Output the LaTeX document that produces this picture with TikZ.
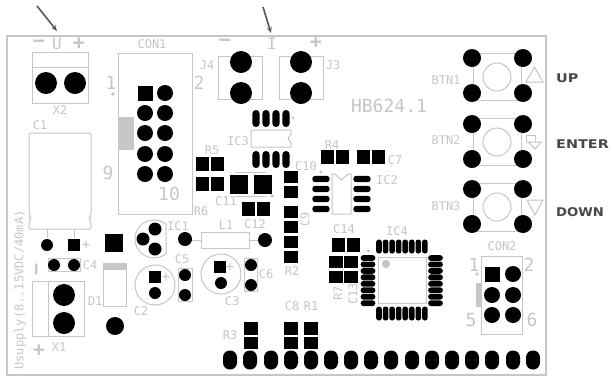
\documentclass[tikz,border=0pt]{standalone}
\usepackage{fontspec}
\usepackage{graphicx}
\setmainfont{DejaVu Sans Mono}
\newfontfamily\capsfont{DejaVu Sans}
\definecolor{silk}{HTML}{C6C6C6}
\newcommand\rpad[3]{\fill (#1,#2) circle (#3);}
\newcommand\spad[3]{\fill[shift={(#1,#2)}] (-#3,-#3) rectangle (#3,#3);}
\newcommand\rect[4]{\fill (#1,#2) rectangle (#3,#4);}
\newcommand\obl[5]{\fill[shift={(#1,#2)},rounded corners=#5] (-#3,-#4) rectangle (#3,#4);}
\tikzset{
  lbl/.style={text=silk,inner sep=0pt,font=\fontsize{12}{12}\selectfont},
  lblbig/.style={text=silk,inner sep=0pt,font=\fontsize{18}{18}\selectfont},
  lblmid/.style={text=silk,inner sep=0pt,font=\fontsize{16}{16}\selectfont},
  lblsign/.style={text=silk,inner sep=0pt,font=\bfseries\fontsize{20}{20}\selectfont},
  lblplus/.style={text=silk,inner sep=0pt,font=\fontsize{14}{14}\selectfont},
  outl/.style={draw=silk,line width=1pt},
  callout/.style={text=black!72,inner sep=0pt,anchor=west,font=\capsfont\bfseries\fontsize{12}{12}\selectfont},
  pointer/.style={draw=black!65,line width=1.6pt,-{Stealth[length=6pt,width=5pt]}}
}
\usetikzlibrary{arrows.meta}
\begin{document}
\begin{tikzpicture}[x=1pt,y=-1pt]
\useasboundingbox (0,0) rectangle (613,376);
\fill[white] (0,0) rectangle (613,376);
% board
\draw[draw=silk,line width=1.6pt] (7,36) rectangle (546,375);
% pointers
\coordinate (pus) at (37,6); \coordinate (pue) at (57,31);
\coordinate (pis) at (263,7); \coordinate (pie) at (271,33);
\draw[pointer] (pus) -- (pue);
\draw[pointer] (pis) -- (pie);
% top marks
\node[lblsign] (um) at (39,43.5) {−};
\node[lblmid] (uu) at (57,44) {U};
\node[lblsign] (up) at (79,43.5) {+};
\node[lblsign] (im) at (225,43) {−};
\node[lblmid] (ii) at (272,43.5) {I};
\node[lblsign] (ip) at (316,43) {+};
% outlines
\begin{scope}[outl]
\draw (32,52) rectangle (88,103); \draw (32,67) -- (88,67);
\draw (118,53) rectangle (192,214);
\draw[rounded corners=2pt] (29,133) -- (91,133) -- (91,215) -- (89,218) -- (91,222) -- (91,229) -- (29,229) -- (29,222) -- (31,218) -- (29,215) -- cycle;
\draw (47,229) -- (47,238); \draw (74,229) -- (74,238);
\draw (218,56) rectangle (262,99);
\draw (279,56) rectangle (323,99);
\draw (251,130) -- (291,130) -- (291,134) -- (288,138.5) -- (291,143) -- (291,147) -- (251,147) -- cycle;
\draw (332,174) -- (335,174) -- (341.5,180) -- (348,174) -- (351,174) -- (351,214) -- (332,214) -- cycle;
\draw (235,172) -- (266,172);
\draw (235,196) -- (266,196);
\draw (201,232) rectangle (249,248);
\draw (191,240) -- (201,240); \draw (249,240) -- (258,240);
\draw (166,253.7) arc (50.8:309.2:19) -- cycle;
\draw (155,285) circle (20);
\draw (178,268) rectangle (192,301);
\draw (221,274) circle (20);
\draw (244,258) rectangle (257,291);
\draw (48,258) rectangle (80,271);
\draw (32,281) rectangle (84,336); \draw (48,281) -- (48,336);
\draw (103,263) rectangle (126,306);
\draw (378,257) rectangle (426,303);
\draw (481,256) rectangle (522,334);
\draw (473,53) rectangle (521,100); \draw (497,77) circle (14);
\draw (473,118) rectangle (521,165); \draw (497,142) circle (14);
\draw (473,183) rectangle (521,231); \draw (497,207) circle (14);
\draw (526,82) -- (543,82) -- (534.5,67) -- cycle;
\draw (526.5,142) -- (526.5,135) -- (535,135) -- (535,142);
\draw (526.5,142) -- (531,142);
\draw (528.5,142) -- (541.5,142) -- (535,149) -- cycle;
\draw (527,200) -- (543,200) -- (535,215) -- cycle;
\end{scope}
% silk fills
\fill[silk] (118,117) rectangle (134,150);
\fill[silk] (103,263) rectangle (126,270);
\fill[silk] (476,283) rectangle (481,307);
\fill[silk] (386,264) circle (4.2);
\fill[silk] (113,94) circle (1.8);
\fill[silk] (293,118) circle (1.7);
\fill[silk] (272,196) circle (1.8);
\fill[silk] (321,172) circle (1.7);
\fill[silk] (368.5,251) circle (1.7);
\fill[silk] (477,274) circle (1.8);
% pads
\rpad{46}{83}{11}\rpad{75}{83}{11}
\spad{145}{93}{7.5}\rpad{165}{93}{8}
\foreach \y in {113,133,154,174} {\rpad{145}{\y}{8}\rpad{165}{\y}{8}}
\rpad{47}{245}{6}\spad{74}{245}{6}
\rpad{54}{265}{6}\rpad{74}{265}{6}
\rpad{64}{295}{11}\rpad{64}{323}{11}
\spad{114}{243}{9}\rpad{115}{326}{9}
\rpad{155}{229}{6.5}\rpad{143}{239}{6.5}\rpad{155}{249}{6.5}
\rpad{185}{239}{7}\rpad{265}{240}{7}
\rpad{185}{275}{6}\rpad{185}{295}{6}
\spad{155}{277}{6}\rpad{155}{293}{6}
\spad{220}{267}{6}\rpad{221}{283}{6}
\rpad{251}{265}{6}\rpad{251}{285}{6}
\rpad{241}{62}{11}\rpad{241}{93}{11}
\rpad{301}{62}{11}\rpad{301}{93}{11}
\foreach \x in {256,266,276,286} {\obl{\x}{118.5}{3.6}{8.5}{3.5}\obl{\x}{159.5}{3.6}{8.5}{3.5}}
\rect{196}{157}{209}{171}\rect{211}{157}{224}{171}
\rect{196}{177}{209}{191}\rect{211}{177}{224}{191}
\rect{230}{175}{248}{194}\rect{254}{175}{272}{194}
\rect{242}{202}{255}{216}\rect{257}{202}{270}{216}
\rect{321}{150}{334}{164}\rect{336}{150}{349}{164}
\rect{357}{150}{370}{164}\rect{372}{150}{385}{164}
\rect{284}{171}{298}{183}\rect{284}{186}{298}{198}
\rect{284}{206}{298}{218}\rect{284}{221}{298}{233}
\rect{284}{236}{298}{248}\rect{284}{251}{298}{263}
\foreach \y in {179,189,199,209} {\obl{321}{\y}{8.7}{3.2}{3}\obl{362}{\y}{8.7}{3.2}{3}}
\rect{332}{238}{345}{252}\rect{347}{238}{360}{252}
\rect{329}{256}{343}{268}\rect{344}{256}{358}{268}
\rect{329}{271}{343}{283}\rect{344}{271}{358}{283}
\foreach \i in {0,...,7} {
  \pgfmathsetmacro\px{379+\i*6.55}
  \obl{\px}{246.5}{2.8}{7}{2.6}\obl{\px}{313.5}{2.8}{7}{2.6}
  \pgfmathsetmacro\py{258+\i*6.45}
  \obl{368}{\py}{7.3}{2.9}{2.7}\obl{435.5}{\py}{7.3}{2.9}{2.7}
}
\rect{244}{322}{258}{335}\rect{244}{337}{258}{349}
\rect{284}{322}{298}{335}\rect{284}{337}{298}{349}
\rect{304}{322}{318}{335}\rect{304}{337}{318}{349}
\foreach \x in {230,250,271,291,311,331,351,371,391,412,432,452,472,492,513,533} {\obl{\x}{360}{7}{9.5}{6.8}}
\foreach \y in {58,93,124,159,189,224} {\rpad{472}{\y}{9}\rpad{523}{\y}{9}}
\spad{492}{274}{7.5}\rpad{513}{274}{8}
\rpad{492}{295}{8}\rpad{513}{295}{8}
\rpad{492}{315}{8}\rpad{513}{315}{8}
% labels
\node[lbl] (tCON1) at (152,44) {CON1};
\node[lbl] (tX2) at (60,110) {X2};
\node[lbl] (tC1) at (40,125) {C1};
\node[lblbig] (tn1) at (111,83) {1};
\node[lblbig] (tn2) at (199,83) {2};
\node[lblbig] (tn9) at (108,173) {9};
\node[lblbig] (tn10) at (169,194) {10};
\node[lbl] (tJ4) at (207,65) {J4};
\node[lbl] (tJ3) at (333,65) {J3};
\node[lblbig] (tHB) at (389,106) {HB624.1};
\node[lbl] (tIC3) at (238,141) {IC3};
\node[lbl] (tR5) at (212,150) {R5};
\node[lbl] (tC11) at (226,201) {C11};
\node[lbl] (tR6) at (201,211) {R6};
\node[lbl] (tC12) at (255,224) {C12};
\node[lbl] (tR4) at (332,145) {R4};
\node[lbl] (tC7) at (395,160) {C7};
\node[lbl] (tC10) at (306,166) {C10};
\node[lbl] (tIC2) at (387,180) {IC2};
\node[lbl,rotate=90] (tC9) at (305,219) {C9};
\node[lbl] (tR2) at (292,271) {R2};
\node[lbl] (tC14) at (344,229) {C14};
\node[lbl] (tIC4) at (397,231) {IC4};
\node[lbl,rotate=90] (tR7) at (338,293) {R7};
\node[lbl,rotate=90] (tC13) at (353,294) {C13};
\node[lbl] (tIC1) at (178,226) {IC1};
\node[lbl] (tL1) at (226,225) {L1};
\node[lbl] (tC5) at (182,259) {C5};
\node[lbl] (tC6) at (266,274) {C6};
\node[lbl] (tC2) at (141,311) {C2};
\node[lbl] (tC3) at (232,301) {C3};
\node[lbl] (tC4) at (90,265) {C4};
\node[lbl] (tD1) at (95,301) {D1};
\node[lbl] (tX1) at (59,347) {X1};
\node[lbl] (tC8) at (292,306) {C8};
\node[lbl] (tR1) at (311,306) {R1};
\node[lbl] (tR3) at (230,335) {R3};
\node[lbl] (tBTN1) at (446,80) {BTN1};
\node[lbl] (tBTN2) at (446,140) {BTN2};
\node[lbl] (tBTN3) at (446,206) {BTN3};
\node[lbl] (tCON2) at (502,246) {CON2};
\node[lblbig] (tc1) at (474,265) {1};
\node[lblbig] (tc2) at (529,265) {2};
\node[lblbig] (tc5) at (471,320) {5};
\node[lblbig] (tc6) at (532,320) {6};
\node[lblsign,rotate=90] (tmn) at (39,269) {−};
\node[lblsign] (tpl) at (39,351) {+};
\node[lbl,rotate=90] (tUs) at (20,290) {Usupply(8..15VDC/40mA)};
\node[lblplus] (tplc) at (86,245) {+};
\node[lblplus] (tpc2) at (166,277) {+};
\node[lblplus] (tpc3) at (230,267) {+};
% callouts
\node[callout] (cUP) at (556,78) {\scalebox{1.2}[1]{UP}};
\node[callout] (cENTER) at (556,144) {\scalebox{1.2}[1]{ENTER}};
\node[callout] (cDOWN) at (556,212) {\scalebox{1.1}[1]{DOWN}};
\end{tikzpicture}
\end{document}
